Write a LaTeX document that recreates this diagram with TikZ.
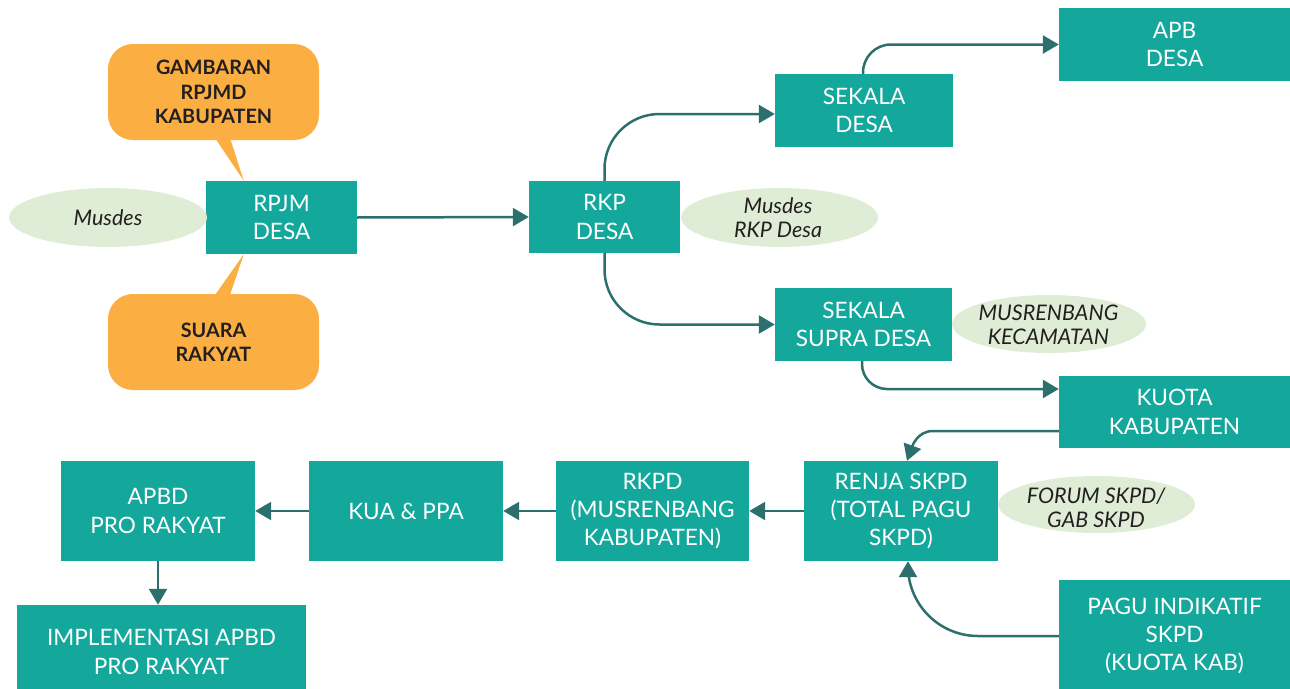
\documentclass[tikz,border=0pt]{standalone}
\usepackage{fontspec}
\setmainfont{Lato}
\usetikzlibrary{arrows.meta,calc}

\definecolor{boxteal}{HTML}{14A89D}
\definecolor{linkteal}{HTML}{2C706E}
\definecolor{callorange}{HTML}{FBAE41}
\definecolor{notegreen}{HTML}{DFEDD7}
\definecolor{inkdark}{HTML}{231F20}

\tikzset{
  stage/.style={fill=boxteal, text=white, align=center, inner sep=0pt,
    font=\fontsize{22.6}{28.3}\selectfont},
  callout/.style={fill=callorange, rounded corners=25pt, text=inkdark, align=center,
    inner sep=0pt, font=\fontsize{19.8}{24.3}\selectfont\bfseries},
  notetext/.style={text=inkdark, align=center, inner sep=0pt,
    font=\fontsize{21.5}{24.3}\selectfont\itshape},
  notefill/.style={fill=notegreen},
  link/.style={draw=linkteal, line width=2.5pt, -{Triangle[length=16pt,width=18pt]}},
}

\begin{document}
\begin{tikzpicture}[x=1pt, y=-1pt]
\useasboundingbox (0,0) rectangle (1290,688);

% process boxes
\node[stage, minimum width=151pt, minimum height=73pt] (rpjm)  at (281.5,217.5) {RPJM\\DESA};
\node[stage, minimum width=151pt, minimum height=72pt] (rkp)   at (604.5,217)   {RKP\\DESA};
\node[stage, minimum width=178pt, minimum height=73pt] (sdesa) at (864,110.5)   {SEKALA\\DESA};
\node[stage, minimum width=231pt, minimum height=73pt] (apb)   at (1174.5,44.5) {APB\\DESA};
\node[stage, minimum width=177pt, minimum height=73pt] (supra) at (863.5,324.5) {SEKALA\\SUPRA DESA};
\node[stage, minimum width=231pt, minimum height=72pt] (kuota) at (1174.5,412)  {KUOTA\\KABUPATEN};
\node[stage, minimum width=194pt, minimum height=100pt] (renja) at (901,511)    {RENJA SKPD\\(TOTAL PAGU\\SKPD)};
\node[stage, minimum width=231pt, minimum height=112pt] (pagu)  at (1174.5,636) {PAGU INDIKATIF\\SKPD\\(KUOTA KAB)};
\node[stage, minimum width=193pt, minimum height=100pt] (rkpd)  at (652.5,511)  {RKPD\\(MUSRENBANG\\KABUPATEN)};
\node[stage, minimum width=194pt, minimum height=100pt] (kua)   at (406,511)    {KUA \& PPA};
\node[stage, minimum width=194pt, minimum height=100pt] (apbd)  at (158,511)    {APBD\\PRO RAKYAT};
\node[stage, minimum width=289pt, minimum height=94pt]  (impl)  at (161.5,652)  {IMPLEMENTASI APBD\\PRO RAKYAT};

% speech callouts pointing at RPJM DESA
\coordinate (toptip) at ([xshift=38pt]rpjm.north west);
\coordinate (bottip) at ([xshift=38pt]rpjm.south west);
\fill[callorange] (215,138) -- (230,138) -- (toptip) -- cycle;
\fill[callorange] (215,295) -- (230,295) -- (bottip) -- cycle;
\node[callout, minimum width=211pt, minimum height=96pt] (gamb)  at (213.5,92)  {GAMBARAN\\RPJMD\\KABUPATEN};
\node[callout, minimum width=211pt, minimum height=96pt] (suara) at (213.5,342) {SUARA\\RAKYAT};

% meeting notes
\fill[notefill] (108,217.5) ellipse [x radius=99, y radius=29.5];
\node[notetext] (m1) at (108,217.5) {Musdes};
\fill[notefill] (779.5,217.5) ellipse [x radius=98.5, y radius=29.5];
\node[notetext] (m2) at (778,217.5) {Musdes\\RKP Desa};
\fill[notefill] (1049,324) ellipse [x radius=97, y radius=29];
\node[notetext] (m3) at (1048.5,324.5) {MUSRENBANG\\KECAMATAN};
\fill[notefill] (1096.5,504.5) ellipse [x radius=98.5, y radius=28.5];
\node[notetext] (m4) at (1096,507.5) {FORUM SKPD/\\GAB SKPD};

% connectors
\draw[link] (rpjm.east) -- (rkp.west);
\draw[link, rounded corners=55pt] (rkp.north) |- ([yshift=-3.5pt]sdesa.west);
\draw[link, rounded corners=55pt] (rkp.south) |- (supra.west);
\draw[link, rounded corners=28pt] ([xshift=-1pt]sdesa.north) |- (apb.west);
\draw[link, rounded corners=25pt] ([xshift=-1.5pt]supra.south) |- ([yshift=23pt]kuota.west);
\draw[link] ([yshift=-19pt]kuota.west) -- ([xshift=-126pt,yshift=-19pt]kuota.west)
  to[out=180,in=70] ([xshift=6pt]renja.north);
\draw[link, rounded corners=70pt] (pagu.west) -| ([xshift=7pt]renja.south);
\draw[link] (renja.west) -- (rkpd.east);
\draw[link] (rkpd.west) -- (kua.east);
\draw[link] (kua.west) -- (apbd.east);
\draw[link] (apbd.south) -- (apbd.south |- impl.north);
\end{tikzpicture}
\end{document}
